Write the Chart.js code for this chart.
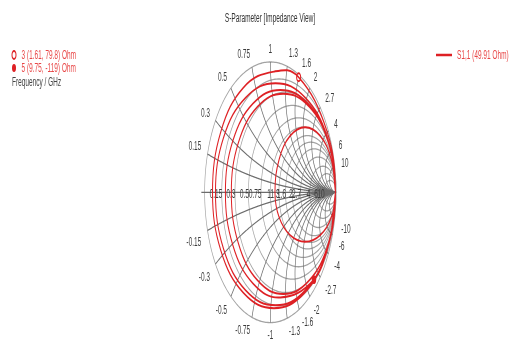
<!DOCTYPE html>
<html>
<head>
<meta charset="utf-8">
<script src="https://cdn.jsdelivr.net/npm/chart.js@4/dist/chart.umd.min.js"></script>
<style>
  html, body { margin: 0; padding: 0; background: #fff; overflow: hidden; }
  /* the plot is laid out twice as wide and squeezed horizontally */
  #wrap { width: 1034px; height: 345px; transform: scaleX(0.5); transform-origin: 0 0; }
</style>
</head>
<body>
<div id="wrap"><canvas id="c" width="1034" height="345"></canvas></div>
<script>
// Port reference impedance (Ohm)
const z0 = 49.91;

// Smith chart grid values (normalised resistance and reactance)
const gridValues = [0.15, 0.3, 0.5, 0.75, 1, 1.3, 1.6, 2, 2.7, 4, 6, 10];

// Markers on the S1,1 curve: id, resistance and reactance in Ohm
const markerIds = [3, 5];
const markerR = [1.61, 9.75];
const markerX = [79.8, -119];

// S1,1 over the frequency sweep: real and imaginary part of the reflection coefficient
const s11Re = [
  0.990, 0.865, 0.523, 0.055, -0.413, -0.755, -0.880, -0.755, -0.413, 0.055, 0.4285, 0.865,
  0.990, 0.868, 0.534, 0.078, -0.379, -0.713, -0.835, -0.713, -0.379, 0.078, 0.534, 0.868,
  0.990, 0.878, 0.663, 0.153, -0.266, -0.572, -0.684, -0.572, -0.266, 0.153, 0.572, 0.878,
  0.990, 0.884, 0.594, 0.198, -0.198, -0.488, -0.594, -0.488, -0.198, 0.198, 0.594, 0.884,
  0.990, 0.928, 0.760, 0.530, 0.300, 0.132, 0.070, 0.132, 0.300, 0.530, 0.760, 0.928, 0.990
];
const s11Im = [
  0.000, -0.445, -0.770, -0.889, -0.770, -0.445, 0.000, 0.463, 0.802, 0.926, 0.8835, 0.463,
  0.000, -0.434, -0.751, -0.867, -0.751, -0.434, 0.000, 0.419, 0.725, 0.837, 0.725, 0.419,
  0.000, -0.404, -0.671, -0.807, -0.699, -0.404, 0.000, 0.393, 0.680, 0.785, 0.680, 0.393,
  0.000, -0.390, -0.675, -0.780, -0.675, -0.390, 0.000, 0.378, 0.655, 0.756, 0.655, 0.378,
  0.000, -0.190, -0.329, -0.380, -0.329, -0.190, 0.000, 0.250, 0.433, 0.500, 0.433, 0.250, 0.000
];

const RED = 'rgb(222,32,36)';
const LABEL_RED = 'rgb(232,70,70)';
const FONT = '13px "Liberation Sans", Arial, sans-serif';

// normalised impedance -> reflection coefficient
function toGamma(r, x) {
  const d = (r + 1) * (r + 1) + x * x;
  return [(r * r + x * x - 1) / d, 2 * x / d];
}

const smithGrid = {
  id: 'smithGrid',
  beforeDatasetsDraw(chart) {
    const { ctx } = chart;
    const sx = chart.scales.x, sy = chart.scales.y;
    const px = v => sx.getPixelForValue(v);
    const py = v => sy.getPixelForValue(v);
    ctx.save();
    ctx.lineWidth = 1.3;

    // constant resistance circles
    ctx.strokeStyle = '#a2a2a2';
    [0].concat(gridValues).forEach(r => {
      const c = r / (1 + r), rad = 1 / (1 + r);
      ctx.beginPath();
      for (let i = 0; i <= 360; i++) {
        const a = i * Math.PI / 180;
        const X = px(c + rad * Math.cos(a)), Y = py(rad * Math.sin(a));
        if (i === 0) ctx.moveTo(X, Y); else ctx.lineTo(X, Y);
      }
      ctx.stroke();
    });

    // constant reactance arcs
    ctx.strokeStyle = '#6c6c6c';
    gridValues.forEach(v => {
      [v, -v].forEach(x => {
        ctx.beginPath();
        for (let i = 0; i <= 400; i++) {
          const r = Math.tan(i / 400 * 0.997 * Math.PI / 2);
          const g = toGamma(r, x);
          const X = px(g[0]), Y = py(g[1]);
          if (i === 0) ctx.moveTo(X, Y); else ctx.lineTo(X, Y);
        }
        ctx.lineTo(px(1), py(0));
        ctx.stroke();
      });
    });

    // real axis
    ctx.beginPath();
    ctx.moveTo(px(-1.05), py(0));
    ctx.lineTo(px(1), py(0));
    ctx.stroke();

    // grid labels
    ctx.font = FONT;
    ctx.fillStyle = '#3c3c3c';
    ctx.textBaseline = 'middle';
    ctx.textAlign = 'right';
    gridValues.forEach(r => {
      const g = (r - 1) / (r + 1);
      ctx.fillText(String(r), px(g) + 1, py(0) + 2);
    });
    gridValues.forEach(v => {
      [v, -v].forEach(x => {
        const g = toGamma(0, x);
        const k = 1.1;
        ctx.textAlign = g[0] < -0.05 ? 'right' : (g[0] > 0.05 ? 'left' : 'center');
        const dy = x < 0 ? 9 * g[0] * g[0] : (v === 0.15 ? -4 : 0);
        ctx.fillText(String(x), px(g[0] * k), py(g[1] * k) + dy);
      });
    });
    ctx.restore();
  },
  afterDraw(chart) {
    const { ctx } = chart;
    ctx.save();
    ctx.font = FONT;
    ctx.textBaseline = 'middle';

    // title
    ctx.fillStyle = '#333';
    ctx.textAlign = 'center';
    ctx.fillText('S-Parameter [Impedance View]', 540, 18);

    // marker legend
    ctx.textAlign = 'left';
    const rows = [55, 68];
    markerIds.forEach((id, i) => {
      const y = rows[i];
      ctx.beginPath();
      ctx.ellipse(28, y, 4, 4, 0, 0, Math.PI * 2);
      ctx.lineWidth = 2;
      ctx.strokeStyle = RED;
      if (i === 0) { ctx.fillStyle = '#fff'; ctx.fill(); ctx.stroke(); }
      else { ctx.fillStyle = RED; ctx.fill(); }
      ctx.fillStyle = LABEL_RED;
      ctx.fillText(id + ' (' + markerR[i] + ', ' + markerX[i] + ') Ohm', 43, y);
    });
    ctx.fillStyle = '#444';
    ctx.fillText('Frequency / GHz', 24, 82);

    // trace legend
    ctx.strokeStyle = RED;
    ctx.lineWidth = 2.5;
    ctx.beginPath();
    ctx.moveTo(872, 55);
    ctx.lineTo(904, 55);
    ctx.stroke();
    ctx.fillStyle = LABEL_RED;
    ctx.fillText('S1,1 (' + z0 + ' Ohm)', 914, 55);
    ctx.restore();
  }
};

const tracePoints = s11Re.map((re, i) => ({ x: re, y: s11Im[i] }));
const markerPoints = markerIds.map((id, i) => {
  const g = toGamma(markerR[i] / z0, markerX[i] / z0);
  return { x: g[0], y: g[1] };
});

new Chart(document.getElementById('c'), {
  type: 'scatter',
  data: {
    datasets: [
      {
        label: 'S1,1',
        data: tracePoints,
        showLine: true,
        borderColor: RED,
        borderWidth: 2,
        pointRadius: 0,
        tension: 0.4,
        fill: false
      },
      {
        label: 'Marker ' + markerIds[0],
        data: [markerPoints[0]],
        pointStyle: 'circle',
        pointRadius: 4,
        borderWidth: 2,
        borderColor: RED,
        backgroundColor: '#fff'
      },
      {
        label: 'Marker ' + markerIds[1],
        data: [markerPoints[1]],
        pointStyle: 'circle',
        pointRadius: 4,
        borderWidth: 1,
        borderColor: RED,
        backgroundColor: RED
      }
    ]
  },
  options: {
    responsive: false,
    devicePixelRatio: 1,
    animation: false,
    events: [],
    layout: { padding: 0 },
    plugins: { legend: { display: false }, tooltip: { enabled: false } },
    scales: {
      x: { type: 'linear', min: -4.0677, max: 3.7068, display: false },
      y: { type: 'linear', min: -1.1259, max: 1.4296, display: false }
    }
  },
  plugins: [smithGrid]
});
</script>
</body>
</html>
